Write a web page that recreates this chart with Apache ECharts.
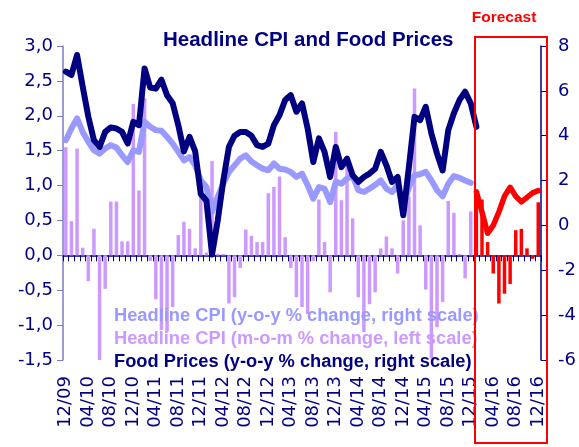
<!DOCTYPE html>
<html>
<head>
    <meta charset="utf-8" />
    <title>Headline CPI and Food Prices</title>
    <script type="text/javascript" src="https://cdn.jsdelivr.net/npm/echarts@6/dist/echarts.min.js"></script>
    <style>
        html, body { margin: 0; padding: 0; background: #fff; }
        #main { width: 579px; height: 447px; }
    </style>
</head>
<body>
    <div id="main"></div>
    <script type="text/javascript">
        // month labels 12/09 .. 12/16
        var months = [];
        for (var i = 0; i < 85; i++) {
            var m = (11 + i) % 12 + 1;
            var y = 9 + Math.floor((11 + i) / 12);
            months.push((m < 10 ? '0' : '') + m + '/' + (y < 10 ? '0' : '') + y);
        }

        var seriesNames = [
            'Headline CPI (y-o-y % change, right scale)',
            'Headline CPI (m-o-m % change, left scale)',
            'Food Prices (y-o-y % change, right scale)'
        ];

        // headline CPI y-o-y, 12/09 .. 12/15 (right scale)
        var headlineYoy = [3.8, 4.32, 4.77, 4.17, 3.73, 3.35, 3.2, 3.43, 3.58, 3.47, 3.13, 2.83,
            3.35, 3.28, 4.62, 4.4, 4.25, 4.22, 3.95, 3.65, 3.28, 2.9, 3.05, 2.68,
            2.0, 1.71, 0.6, 1.27, 1.86, 2.38, 2.68, 2.98, 3.13, 2.85, 2.68, 2.53,
            2.46, 2.76, 2.53, 2.49, 2.38, 2.16, 2.31, 1.79, 1.19, 1.71, 1.64, 1.04,
            1.94, 1.86, 2.09, 2.2, 1.57, 1.49, 1.64, 1.8, 2.01, 1.64, 1.49, 1.79,
            0.82, 1.71, 2.24, 2.28, 2.39, 2.01, 1.57, 1.3, 1.86, 2.2, 2.12, 2.0, 1.9];

        // headline CPI m-o-m, 12/09 .. 12/15 (left scale)
        var headlineMom = [1.55, 0.49, 1.53, 0.11, -0.37, 0.38, -1.52, -0.48, 0.77, 0.77, 0.2, 0.2,
            2.17, 0.93, 2.25, -0.08, -0.63, -1.07, -1.1, -0.74, 0.29, 0.48, 0.38, 0.1,
            0.84, 0.04, 1.35, 0.02, 0.02, -0.69, -0.6, -0.18, 0.37, 0.28, 0.19, 0.19,
            0.89, 0.98, 1.13, 0.26, -0.18, -0.6, -0.74, -0.84, -0.08, 0.8, 0.19, -0.53,
            1.77, 0.79, 1.29, 0.53, -0.6, -1.1, -0.7, -0.53, 0.1, 0.27, 0.1, -0.26,
            0.5, 0.84, 2.39, 0.43, -0.49, -1.48, -1.03, -0.67, 0.78, 0.61, 0.02, -0.33, 0.63];

        // food prices y-o-y, 12/09 .. 01/16 (right scale)
        var foodYoy = [6.86, 6.71, 7.6, 6.19, 4.85, 3.8, 3.5, 4.17, 4.37, 4.32, 4.17, 3.65,
            4.62, 4.47, 7.0, 6.15, 6.1, 6.5, 5.8, 5.45, 4.47, 3.3, 3.95, 3.3,
            1.4, 1.1, -1.3, 0.2, 2.0, 3.5, 4.0, 4.17, 4.17, 4.0, 3.58, 3.5,
            3.65, 4.47, 4.92, 5.59, 5.81, 5.07, 5.44, 4.32, 2.83, 3.88, 3.28, 2.16,
            3.5, 2.6, 2.98, 2.24, 1.94, 2.16, 2.31, 2.53, 3.28, 2.68, 1.94, 2.16,
            0.45, 2.6, 4.84, 4.7, 5.29, 4.1, 3.2, 2.45, 4.25, 5.0, 5.59, 5.96, 5.44, 4.4];

        // forecast 01/16 .. 12/16
        var forecastYoy = [1.5, 0.6, -0.35, 0.0, 0.6, 1.3, 1.7, 1.3, 1.05, 1.25, 1.45, 1.55];
        var forecastMom = [0.85, 0.8, 0.19, -0.26, -0.69, -0.55, -0.41, 0.36, 0.38, 0.1, -0.05, 0.76];

        var startForecast = 73;
        function pad(arr, start) {
            var out = [];
            for (var k = 0; k < months.length; k++) {
                var v = arr[k - start];
                out.push(v === undefined ? null : v);
            }
            return out;
        }

        var navy = '#000080';
        var labelFont = 'DejaVu Sans';
        var textFont = 'Liberation Sans';

        var myChart = echarts.init(document.getElementById('main'));
        var option = {
            animation: false,
            backgroundColor: '#ffffff',
            title: {
                text: 'Headline CPI and Food Prices',
                left: 163,
                top: 30,
                padding: 0,
                textStyle: { fontFamily: textFont, fontWeight: 'bold', fontSize: 20.5, color: navy }
            },
            legend: {
                orient: 'vertical',
                left: 109,
                top: 307,
                padding: 0,
                itemGap: 5,
                itemWidth: 0,
                itemHeight: 18,
                icon: 'none',
                selectedMode: false,
                textStyle: { fontFamily: textFont, fontWeight: 'bold', fontSize: 18.3 },
                data: [
                    { name: seriesNames[0], textStyle: { color: '#9999ff' } },
                    { name: seriesNames[1], textStyle: { color: '#cc99ff' } },
                    { name: seriesNames[2], textStyle: { color: navy } }
                ]
            },
            grid: { left: 63, right: 35, top: 46, bottom: 87 },
            xAxis: [{
                type: 'category',
                data: months,
                position: 'bottom',
                boundaryGap: true,
                axisLine: { show: false, onZero: false },
                axisTick: { show: false },
                axisLabel: {
                    interval: 3,
                    rotate: 90,
                    margin: 16,
                    color: navy,
                    fontFamily: labelFont,
                    fontSize: 18
                },
                splitLine: { show: false }
            }, {
                type: 'category',
                data: months,
                position: 'bottom',
                boundaryGap: true,
                axisLine: { show: true, onZero: true, onZeroAxisIndex: 0, lineStyle: { color: navy, width: 1.5 } },
                axisTick: { show: true, interval: 0, length: 6, lineStyle: { color: navy } },
                axisLabel: { show: false },
                splitLine: { show: false }
            }],
            yAxis: [{
                type: 'value',
                position: 'left',
                min: -1.5,
                max: 3,
                interval: 0.5,
                axisLine: { show: true, lineStyle: { color: '#7b7bc0', width: 1.5 } },
                axisTick: { show: true, length: 6, lineStyle: { color: '#7b7bc0' } },
                axisLabel: {
                    margin: 10,
                    color: navy,
                    fontFamily: labelFont,
                    fontSize: 18,
                    formatter: function (v) { return v.toFixed(1).replace('.', ','); }
                },
                splitLine: { show: false }
            }, {
                type: 'value',
                position: 'right',
                min: -6,
                max: 8,
                interval: 2,
                axisLine: { show: true, lineStyle: { color: navy, width: 1.5 } },
                axisTick: { show: true, length: 5, lineStyle: { color: navy } },
                axisLabel: { margin: 17, color: navy, fontFamily: labelFont, fontSize: 18 },
                splitLine: { show: false }
            }],
            series: [{
                name: seriesNames[1],
                type: 'bar',
                yAxisIndex: 0,
                barWidth: 3.5,
                barGap: '-100%',
                itemStyle: { color: '#cc99ff' },
                data: pad(headlineMom, 0)
            }, {
                name: 'Forecast m-o-m',
                type: 'bar',
                yAxisIndex: 0,
                barWidth: 3.5,
                barGap: '-100%',
                itemStyle: { color: '#ff0000' },
                data: pad(forecastMom, startForecast)
            }, {
                name: seriesNames[0],
                type: 'line',
                yAxisIndex: 1,
                symbol: 'none',
                lineStyle: { color: '#9999ff', width: 6, cap: 'round', join: 'round' },
                itemStyle: { color: '#9999ff' },
                data: pad(headlineYoy, 0)
            }, {
                name: seriesNames[2],
                type: 'line',
                yAxisIndex: 1,
                symbol: 'none',
                lineStyle: { color: navy, width: 6, cap: 'round', join: 'round' },
                itemStyle: { color: navy },
                data: pad(foodYoy, 0)
            }, {
                name: 'Forecast y-o-y',
                type: 'line',
                yAxisIndex: 1,
                symbol: 'none',
                lineStyle: { color: '#ff0000', width: 5.5, cap: 'round', join: 'round' },
                itemStyle: { color: '#ff0000' },
                data: pad(forecastYoy, startForecast)
            }],
            graphic: [{
                type: 'rect',
                shape: { x: 475, y: 37, width: 72, height: 406 },
                style: { fill: 'none', stroke: '#ff0000', lineWidth: 2 },
                z: 100
            }, {
                type: 'text',
                x: 504,
                y: 18,
                style: {
                    text: 'Forecast',
                    fill: '#ff0000',
                    font: 'bold 15.5px "Liberation Sans"',
                    textAlign: 'center',
                    textVerticalAlign: 'middle'
                }
            }]
        };
        option && myChart.setOption(option);
    </script>
</body>
</html>
